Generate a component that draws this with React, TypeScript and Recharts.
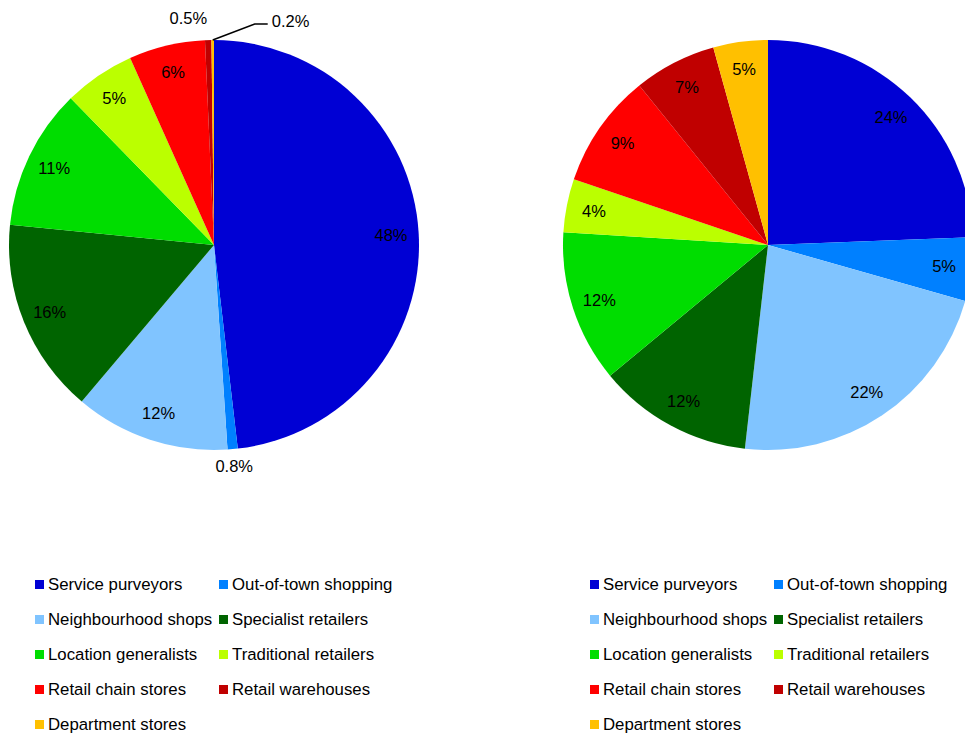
import { PieChart, Pie, Cell } from "recharts";

const CATEGORIES = [
  "Service purveyors",
  "Out-of-town shopping",
  "Neighbourhood shops",
  "Specialist retailers",
  "Location generalists",
  "Traditional retailers",
  "Retail chain stores",
  "Retail warehouses",
  "Department stores",
];
const COLORS = ["#0000D4", "#0080FF", "#80C4FF", "#006400", "#00DD00", "#BBFF00", "#FF0000", "#C00000", "#FFC000"];
// slice sizes
const LEFT_VALUES = [48.1, 0.8, 12.2, 15.4, 11.1, 5.6, 6.0, 0.5, 0.2];
const RIGHT_VALUES = [24.4, 5.0, 22.4, 12.2, 12.0, 4.2, 9.0, 6.5, 4.3];
// data labels as printed on the chart
const LEFT_LABELS = ["48%", "0.8%", "12%", "16%", "11%", "5%", "6%", "0.5%", "0.2%"];
const RIGHT_LABELS = ["24%", "5%", "22%", "12%", "12%", "4%", "9%", "7%", "5%"];

const FONT = "'Liberation Sans', Arial, sans-serif";
const RADIAN = Math.PI / 180;
const R = 205;

function toData(values: number[], labels: string[]) {
  return CATEGORIES.map((name, i) => ({ name, value: values[i], label: labels[i] }));
}

// eslint-disable-next-line @typescript-eslint/no-explicit-any
function renderLabel(props: any) {
  const { cx, cy, midAngle, outerRadius, value, index, payload } = props;
  const text = payload?.label ?? props.label ?? "";
  const cos = Math.cos(-midAngle * RADIAN);
  const sin = Math.sin(-midAngle * RADIAN);
  if (value >= 1) {
    const r = outerRadius * 0.865;
    return (
      <text x={cx + r * cos} y={cy + r * sin} textAnchor="middle" dominantBaseline="central" fontSize={16.5} fontFamily={FONT} fill="#000">
        {text}
      </text>
    );
  }
  // small slices: labels outside the pie
  const ex = cx + outerRadius * cos;
  const ey = cy + outerRadius * sin;
  if (index === 8) {
    const mx = ex + 42;
    const my = ey - 16;
    return (
      <g>
        <polyline points={`${ex},${ey} ${mx},${my} ${mx + 13},${my}`} fill="none" stroke="#000" strokeWidth={1.5} />
        <text x={mx + 17} y={my - 3} textAnchor="start" dominantBaseline="central" fontSize={16.5} fontFamily={FONT} fill="#000">
          {text}
        </text>
      </g>
    );
  }
  if (index === 7) {
    return (
      <text x={ex - 1} y={ey - 22} textAnchor="end" dominantBaseline="central" fontSize={16.5} fontFamily={FONT} fill="#000">
        {text}
      </text>
    );
  }
  const r = outerRadius + 17;
  return (
    <text x={cx + r * cos} y={cy + r * sin} textAnchor="middle" dominantBaseline="central" fontSize={16.5} fontFamily={FONT} fill="#000">
      {text}
    </text>
  );
}

function LegendBlock({ left }: { left: number }) {
  return (
    <div
      style={{
        position: "absolute",
        left,
        top: 567,
        display: "grid",
        gridTemplateColumns: "184px 200px",
        fontFamily: FONT,
        fontSize: 16.8,
        color: "#000",
      }}
    >
      {CATEGORIES.map((c, i) => (
        <div key={c} style={{ display: "flex", alignItems: "center", height: 35, whiteSpace: "nowrap" }}>
          <span style={{ width: 9, height: 9, background: COLORS[i], marginRight: 4, display: "inline-block" }} />
          <span>{c}</span>
        </div>
      ))}
    </div>
  );
}

export default function App() {
  return (
    <div style={{ position: "fixed", left: 0, top: 0, width: 965, height: 733, overflow: "hidden", background: "#fff" }}>
      <PieChart width={980} height={560} margin={{ top: 0, right: 0, bottom: 0, left: 0 }}>
        <Pie
          data={toData(LEFT_VALUES, LEFT_LABELS)}
          dataKey="value"
          cx={214}
          cy={245}
          outerRadius={R}
          startAngle={90}
          endAngle={-270}
          stroke="none"
          label={renderLabel}
          labelLine={false}
          isAnimationActive={false}
        >
          {LEFT_VALUES.map((_, i) => (
            <Cell key={i} fill={COLORS[i]} />
          ))}
        </Pie>
        <Pie
          data={toData(RIGHT_VALUES, RIGHT_LABELS)}
          dataKey="value"
          cx={768}
          cy={245}
          outerRadius={R}
          startAngle={90}
          endAngle={-270}
          stroke="none"
          label={renderLabel}
          labelLine={false}
          isAnimationActive={false}
        >
          {RIGHT_VALUES.map((_, i) => (
            <Cell key={i} fill={COLORS[i]} />
          ))}
        </Pie>
      </PieChart>
      <LegendBlock left={35} />
      <LegendBlock left={590} />
    </div>
  );
}
